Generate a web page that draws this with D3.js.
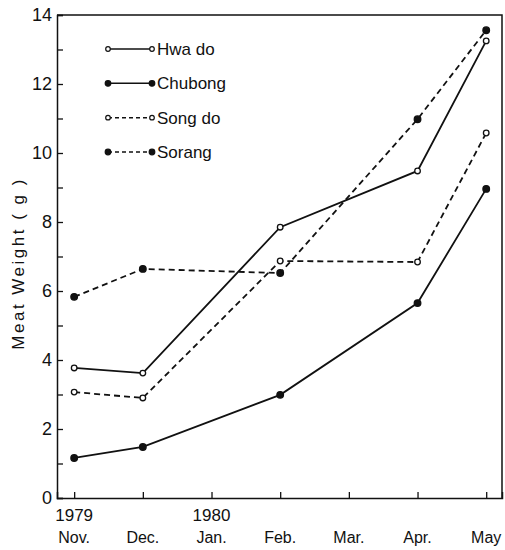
<!DOCTYPE html>
<html lang="en">
<head>
<meta charset="utf-8" />
<title>Meat weight</title>
<style>
  body { margin: 0; background: #fff; }
  text { font-family: "Liberation Sans", Arial, sans-serif; fill: #111; }
</style>
</head>
<body>
<div id="chart"></div>
<script src="https://cdn.jsdelivr.net/npm/d3@7"></script>
<script>
"use strict";

// months on the x axis (index 0 = Nov. 1979)
let months = ["Nov.", "Dec.", "Jan.", "Feb.", "Mar.", "Apr.", "May"]
let years = [{i: 0, label: "1979"}, {i: 2, label: "1980"}]
let sampleIdx = [0, 1, 3, 5, 6]

let hwado   = [3.77, 3.62, 7.85, 9.48, 13.25]
let chubong = [1.16, 1.48, 2.99, 5.65, 8.96]
let songdo  = [3.07, 2.90, 6.87, 6.84, 10.58]
let sorang  = [5.83, 6.64, 6.52, 10.98, 13.56]

let series = [
  {name: "Hwa do",  values: hwado,   open: true,  dashed: false},
  {name: "Chubong", values: chubong, open: false, dashed: false},
  {name: "Song do", values: songdo,  open: true,  dashed: true},
  {name: "Sorang",  values: sorang,  open: false, dashed: true}
]

let width = 505, height = 550
let margin = {top: 15, right: 3, bottom: 52, left: 57}

let svg = d3.select("#chart").append("svg")
  .attr("width", width).attr("height", height)

let x = d3.scaleLinear().domain([-0.25, 6.23])
  .range([margin.left, width - margin.right])
let y = d3.scaleLinear().domain([0, 14])
  .range([height - margin.bottom, margin.top])

// frame (top and right)
svg.append("path")
  .attr("d", `M${x.range()[0]},${y(14)}H${x.range()[1]}V${y(0)}`)
  .attr("fill", "none").attr("stroke", "#111").attr("stroke-width", 1.5)

// y axis, ticks inside
let yAxis = svg.append("g")
  .attr("transform", `translate(${margin.left},0)`)
  .call(d3.axisRight(y).tickValues(d3.range(0, 15, 1)).tickSize(6)
    .tickFormat(d => d % 2 == 0 ? d : ""))
yAxis.select(".domain").attr("stroke", "#111").attr("stroke-width", 1.5)
yAxis.selectAll(".tick line").attr("stroke", "#111").attr("stroke-width", 1.3)
yAxis.selectAll(".tick text")
  .attr("x", -5).attr("text-anchor", "end")
  .style("font-size", "18px").style("font-family", "Liberation Sans, Arial, sans-serif")

// x axis, ticks inside
let xAxis = svg.append("g")
  .attr("transform", `translate(0,${y(0)})`)
  .call(d3.axisTop(x).tickValues(d3.range(0, 7)).tickSize(6).tickFormat(""))
xAxis.select(".domain").attr("stroke", "#111").attr("stroke-width", 1.5)
xAxis.selectAll(".tick line").attr("stroke", "#111").attr("stroke-width", 1.3)

svg.append("g").selectAll("text").data(months).join("text")
  .attr("x", (d, i) => x(i)).attr("y", y(0) + 45)
  .attr("text-anchor", "middle").style("font-size", "16px")
  .text(d => d)

svg.append("g").selectAll("text").data(years).join("text")
  .attr("x", d => x(d.i)).attr("y", y(0) + 23)
  .attr("text-anchor", "middle").style("font-size", "17px")
  .text(d => d.label)

// y label
svg.append("text")
  .attr("transform", `translate(24,${y(6.8)}) rotate(-90)`)
  .attr("text-anchor", "middle").style("font-size", "17px")
  .style("letter-spacing", "2.5px")
  .text("Meat Weight ( g )")

let line = d3.line()
  .x((d, i) => x(sampleIdx[i]))
  .y(d => y(d))

series.forEach(s => {
  svg.append("path")
    .datum(s.values)
    .attr("fill", "none").attr("stroke", "#111").attr("stroke-width", 1.8)
    .attr("stroke-dasharray", s.dashed ? "6,4" : null)
    .attr("d", line)
  svg.append("g").selectAll("circle").data(s.values).join("circle")
    .attr("cx", (d, i) => x(sampleIdx[i])).attr("cy", d => y(d))
    .attr("r", s.open ? 2.8 : 3.3)
    .attr("fill", s.open ? "#fff" : "#111")
    .attr("stroke", "#111").attr("stroke-width", 1.3)
})

// legend
let lx0 = 108, lx1 = 152
let legendY = d3.scaleLinear().domain([0, 3]).range([49, 152])
let lg = svg.append("g")
series.forEach((s, i) => {
  let ly = legendY(i)
  lg.append("line")
    .attr("x1", lx0).attr("x2", lx1).attr("y1", ly).attr("y2", ly)
    .attr("stroke", "#111").attr("stroke-width", 1.5)
    .attr("stroke-dasharray", s.dashed ? "4,3" : null)
  ;[lx0, lx1].forEach(cx => {
    lg.append("circle").attr("cx", cx).attr("cy", ly)
      .attr("r", s.open ? 2.3 : 2.8)
      .attr("fill", s.open ? "#fff" : "#111")
      .attr("stroke", "#111").attr("stroke-width", 1.2)
  })
  lg.append("text")
    .attr("x", lx1 + 5).attr("y", ly + 6)
    .style("font-size", "17px")
    .text(s.name)
})
</script>
</body>
</html>
